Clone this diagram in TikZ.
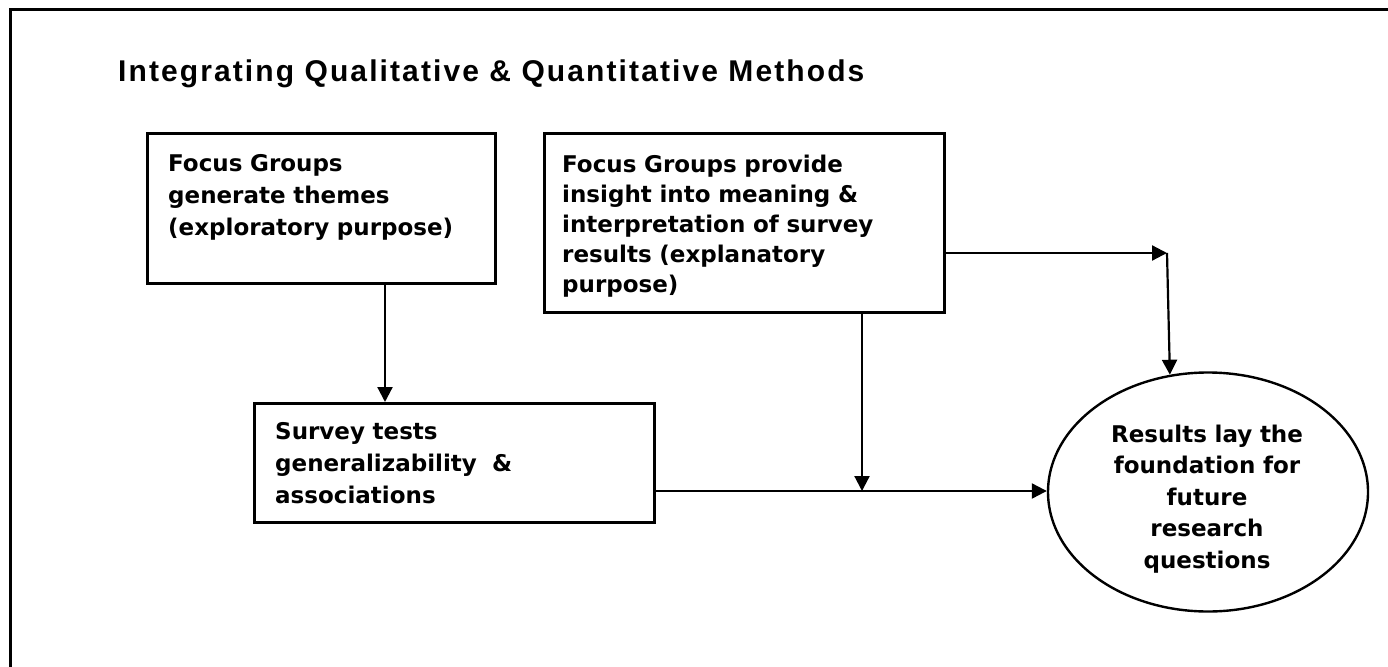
\documentclass[tikz,border=0pt]{standalone}
\usepackage{fontspec}
\setmainfont{DejaVu Sans}
\newfontfamily\titlefont[LetterSpace=7]{Liberation Sans}
\usetikzlibrary{arrows.meta,shapes.geometric}
\begin{document}
\begin{tikzpicture}[x=1pt,y=-1pt,
  boxshape/.style={draw,line width=2.8pt,rectangle,anchor=north west,inner sep=0pt},
  txt/.style={font=\fontsize{23}{#1}\selectfont\bfseries,align=left,anchor=base west,inner sep=0pt,text width=380pt},
  conn/.style={line width=2.2pt,-{Triangle[length=15pt,width=15pt]}},
]
\useasboundingbox (0,0) rectangle (1388,666);
\clip (0,0) rectangle (1388,666);
\fill[white] (0,0) rectangle (1388,666);
\draw[line width=3pt] (10,10) rectangle (1420,700);
% title
\node[anchor=base west,inner sep=0pt,font=\titlefont\fontsize{30}{35}\selectfont\bfseries] (title) at (118,82) {Integrating Qualitative \& Quantitative Methods};
% boxes
\node[boxshape,minimum width=348pt,minimum height=150pt] (b1) at (146,132) {};
\node[txt=32] (b1t) at (168,171) {Focus Groups\\generate themes\\(exploratory purpose)};
\node[boxshape,minimum width=400pt,minimum height=179pt] (b2) at (543,132) {};
\node[txt=30] (b2t) at (562,172) {Focus Groups provide\\insight into meaning \&\\interpretation of survey\\results (explanatory\\purpose)};
\node[boxshape,minimum width=400pt,minimum height=119pt] (sv) at (253,402) {};
\node[txt=32] (svt) at (275,439) {Survey tests\\generalizability \ \&\\associations};
% ellipse
\node[draw,ellipse,line width=2.4pt,minimum width=320pt,minimum height=239pt,inner sep=0pt] (res) at (1208,492) {};
\node[font=\fontsize{23}{31.5}\selectfont\bfseries,align=center,anchor=base,inner sep=0pt,text width=240pt] (rest) at (1207,442) {Results lay the\\foundation for\\future\\research\\questions};
% connectors
\coordinate (c1) at (385,0);
\coordinate (j) at (862,491);
\coordinate (k) at (1167,253);
\draw[conn] (b1.south -| c1) -- (sv.north -| c1);
\draw[conn] (sv.east |- j) -- (res.west |- j);
\draw[conn] (b2.south -| j) -- (j);
\draw[conn] (b2.east |- k) -- (k);
\draw[conn] (k) -- (res.108.5);
\end{tikzpicture}
\end{document}
